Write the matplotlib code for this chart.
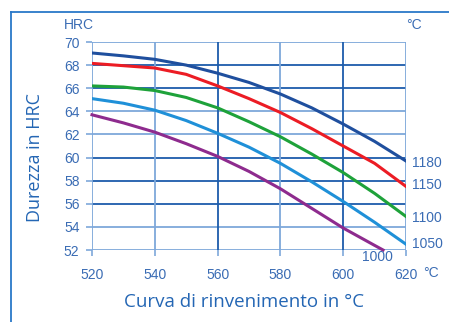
import numpy as np
import matplotlib.pyplot as plt
from matplotlib.lines import Line2D
plt.ioff()

# tempering temperature (C) and hardness (HRC) for each hardening temperature
temps = [520, 530, 540, 550, 560, 570, 580, 590, 600, 610, 620]
hrc_1180 = [69.05, 68.8, 68.5, 68.0, 67.3, 66.5, 65.5, 64.3, 62.9, 61.4, 59.7]
hrc_1150 = [68.15, 67.95, 67.75, 67.2, 66.2, 65.1, 63.9, 62.5, 61.0, 59.5, 57.5]
hrc_1100 = [66.2, 66.1, 65.8, 65.2, 64.3, 63.1, 61.8, 60.3, 58.7, 56.9, 54.9]
hrc_1050 = [65.1, 64.7, 64.1, 63.2, 62.1, 60.9, 59.5, 57.9, 56.2, 54.4, 52.5]
temps_1000 = [520, 530, 540, 550, 560, 570, 580, 590, 600, 610, 612.7]
hrc_1000 = [63.7, 63.0, 62.2, 61.2, 60.1, 58.8, 57.3, 55.6, 53.9, 52.4, 52.0]

xticks = [520, 540, 560, 580, 600, 620]
yticks = [52, 54, 56, 58, 60, 62, 64, 66, 68, 70]

text_col = "#2466b4"
tick_col = "#3a6cb4"
grid_dark = "#1c5cab"
grid_light = "#7ea8da"

plt.rcParams["font.family"] = ["Liberation Sans", "DejaVu Sans"]

fig = plt.figure(figsize=(4.49, 3.22), dpi=100)
ax = fig.add_axes([92/449, 1-250/322, 314/449, 208/322])

ax.set_xlim(520, 620)
ax.set_ylim(52, 70)

# grid (some lines look lighter/hatched in the original)
light_h = [70, 64, 62, 54, 52]
light_v = [520, 540, 580, 620]
for y in yticks:
    ax.axhline(y, color=grid_light if y in light_h else grid_dark, lw=1.3, zorder=1)
for x in xticks:
    ax.axvline(x, color=grid_light if x in light_v else grid_dark, lw=1.3, zorder=1)
for s in ax.spines.values():
    s.set_visible(False)

ax.plot(temps, hrc_1180, color="#1f4f9e", lw=2.2, zorder=3)
ax.plot(temps, hrc_1150, color="#ec1c24", lw=2.2, zorder=3)
ax.plot(temps, hrc_1100, color="#1ea23a", lw=2.2, zorder=3)
ax.plot(temps, hrc_1050, color="#1f90d8", lw=2.2, zorder=3)
ax.plot(temps_1000, hrc_1000, color="#8e2b8e", lw=2.2, zorder=3, clip_on=False)

ax.set_xticks(xticks)
ax.set_yticks(yticks)
ax.tick_params(axis="both", colors=grid_light, labelcolor=tick_col,
               labelsize=10, length=4, width=1.2)
ax.tick_params(axis="x", pad=9)
ax.tick_params(axis="y", pad=5)

# curve labels on the right
lab_kw = dict(color=tick_col, fontsize=10, va="center", ha="left")
ax.text(622, 59.5, "1180", **lab_kw)
ax.text(622, 57.6, "1150", **lab_kw)
ax.text(622, 54.8, "1100", **lab_kw)
ax.text(622, 52.5, "1050", **lab_kw)
ax.text(611, 51.4, "1000", color=tick_col, fontsize=10, va="center", ha="center")

fig.text(64/449, 1-25/322, "HRC", color=tick_col, fontsize=10, ha="left", va="center")
fig.text(406/449, 1-25/322, "°C", color=tick_col, fontsize=10, ha="left", va="center")
fig.text(423/449, 1-273/322, "°C", color=tick_col, fontsize=10, ha="left", va="center")

fig.text(35/449, 1-157/322, "Durezza in HRC", color=text_col, fontsize=13,
         rotation=90, ha="center", va="center", family=["Open Sans", "DejaVu Sans"])
fig.text(244/449, 1-302/322, "Curva di rinvenimento in °C", color=text_col, fontsize=13.5,
         ha="center", va="center", family=["Open Sans", "DejaVu Sans"])

# outer frame (top and left edges)
fig.add_artist(Line2D([11/449, 1], [1-12/322, 1-12/322], color="#2a78c8", lw=1.3))
fig.add_artist(Line2D([11/449, 11/449], [0, 1-12/322], color="#2a78c8", lw=1.3))

plt.savefig("out.png", dpi=100)
